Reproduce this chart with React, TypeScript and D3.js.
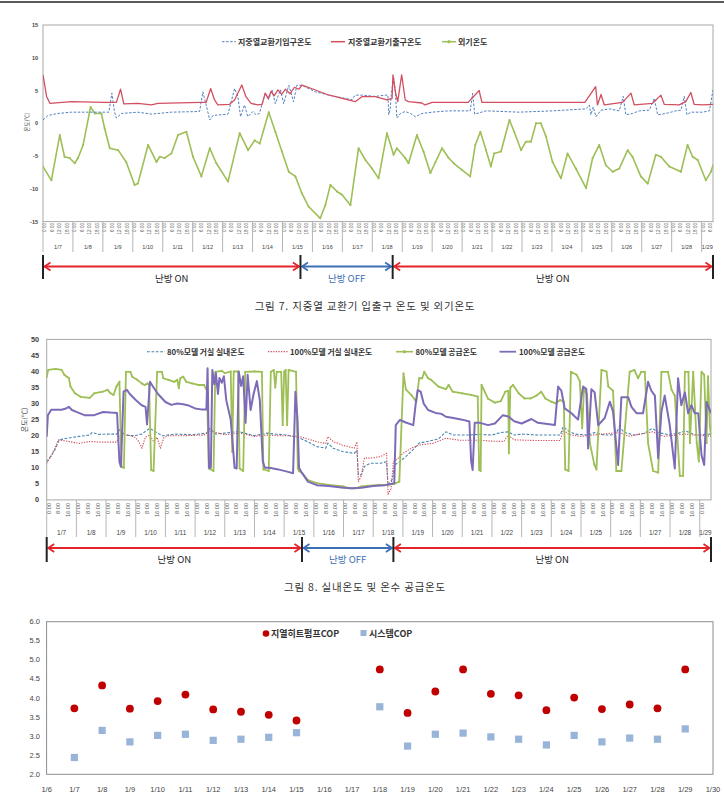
import * as React from 'react';
import * as d3 from 'd3';

// [days since 1/7 0:00, value]
type Pt = [number, number];

const T_END = 22.38; // last sample, 1/29 about 09:00

const dateLabels = ['1/7', '1/8', '1/9', '1/10', '1/11', '1/12', '1/13', '1/14', '1/15', '1/16', '1/17', '1/18',
    '1/19', '1/20', '1/21', '1/22', '1/23', '1/24', '1/25', '1/26', '1/27', '1/28', '1/29'];
const hours6 = ['0:00', '6:00', '12:00', '18:00'];
const hours8 = ['0:00', '8:00', '16:00'];

const heating = [
    { label: '난방 ON', on: true, from: 0, to: 8.6 },
    { label: '난방 OFF', on: false, from: 8.6, to: 11.68 },
    { label: '난방 ON', on: true, from: 11.68, to: T_END },
];

// ground heat exchanger inlet / outlet and outdoor air (°C)
const inletTemp: Pt[] = [
    [0, 0.5], [0.17, 1.2], [0.5, 1.5], [0.95, 1.7], [1.5, 1.7], [2.2, 1.7], [2.3, 4.6], [2.39, 1.7], [2.45, 0.8],
    [2.62, 1.5], [3.17, 1.7], [3.62, 1.4], [4.29, 1.7], [5.23, 1.8], [5.34, 4.8], [5.45, 2.8], [5.57, 0.5],
    [5.68, 1.2], [6.18, 1.4], [6.4, 5.3], [6.51, 4.1], [6.6, 1.0], [6.73, 2.8], [6.84, 1.0], [7.01, 1.8],
    [7.12, 1.3], [7.23, 1.5], [7.32, 3.0], [7.43, 4.6], [7.54, 3.6], [7.65, 5.1], [7.76, 3.0], [7.93, 5.1],
    [8.04, 3.0], [8.21, 5.8], [8.37, 3.3], [8.48, 5.8], [8.65, 5.8], [9.1, 4.8], [9.54, 4.3], [9.99, 3.9],
    [10.32, 3.6], [10.43, 4.3], [10.65, 4.3], [11.1, 4.1], [11.43, 4.3], [11.52, 4.3], [11.55, 1.3], [11.6, 2.3],
    [11.63, 4.3], [11.71, 7.1], [11.77, 4.8], [11.82, 0.8], [11.94, 1.5], [12.1, 1.8], [12.27, 1.5], [12.44, 1.0],
    [12.66, 1.5], [13.0, 1.7], [13.55, 1.9], [14.27, 1.9], [14.35, 4.6], [14.42, 1.4], [14.8, 1.9], [15.91, 1.7],
    [17.02, 1.9], [18.14, 2.2], [18.25, 2.8], [18.3, 1.3], [18.38, 2.5], [18.47, 1.0], [18.64, 2.0], [18.92, 2.2],
    [19.25, 1.9], [19.38, 4.1], [19.47, 1.3], [19.69, 1.5], [19.92, 1.9], [20.25, 2.0], [20.42, 3.8], [20.53, 1.3],
    [20.81, 1.5], [21.14, 1.9], [21.31, 2.0], [21.42, 4.1], [21.51, 1.3], [21.64, 1.7], [22.03, 1.7], [22.26, 1.9],
    [22.38, 5.1],
];
const outletTemp: Pt[] = [
    [0, 7.4], [0.12, 4.1], [0.23, 3.05], [0.95, 3.3], [2.06, 3.2], [2.45, 3.2], [2.59, 5.2], [2.7, 2.95],
    [3.17, 3.05], [3.62, 2.8], [3.84, 3.05], [5.28, 3.2], [5.45, 3.2], [5.6, 5.3], [5.73, 3.56], [5.84, 2.8],
    [6.23, 2.9], [6.4, 3.56], [6.64, 5.84], [6.78, 4.06], [6.95, 3.05], [7.17, 2.8], [7.32, 2.9], [7.42, 4.6],
    [7.52, 3.8], [7.62, 4.9], [7.72, 4.2], [7.85, 5.1], [7.97, 4.4], [8.1, 5.2], [8.25, 4.5], [8.4, 5.5],
    [8.55, 5.2], [8.65, 5.84], [9.1, 5.08], [9.54, 4.32], [9.99, 3.8], [10.43, 3.3], [10.65, 4.06], [11.1, 4.06],
    [11.49, 3.56], [11.66, 3.8], [11.69, 7.4], [11.77, 4.8], [11.85, 3.3], [11.98, 7.4], [12.1, 3.56], [12.21, 3.3],
    [12.66, 3.1], [12.76, 2.8], [13.0, 3.2], [14.2, 3.2], [14.57, 5.0], [14.66, 3.2], [17.0, 3.2], [18.1, 3.2],
    [18.46, 5.6], [18.52, 2.8], [18.64, 4.4], [18.75, 2.8], [19.36, 3.2], [19.64, 4.6], [19.75, 2.8], [20.36, 3.05],
    [20.64, 4.3], [20.75, 2.9], [21.25, 2.8], [21.47, 3.3], [21.64, 4.7], [21.75, 2.9], [22.03, 2.8], [22.38, 2.9],
];
const outdoorTemp: Pt[] = [
    [0, -6.6], [0.28, -8.7], [0.56, -1.8], [0.72, -5.1], [0.89, -5.3], [1.06, -6.1], [1.17, -5.3], [1.34, -3.3],
    [1.59, 2.5], [1.73, 1.5], [1.95, 1.5], [2.06, -0.8], [2.23, -3.8], [2.51, -4.1], [2.78, -5.9], [3.06, -9.4],
    [3.17, -9.2], [3.51, -3.3], [3.79, -5.9], [3.9, -5.1], [4.06, -5.3], [4.29, -4.6], [4.51, -1.8], [4.79, -1.3],
    [5.01, -5.1], [5.29, -8.1], [5.57, -3.8], [5.79, -6.1], [6.18, -8.9], [6.57, -1.5], [6.85, -4.1], [7.07, -2.6],
    [7.24, -3.1], [7.54, 1.7], [7.76, -1.3], [7.98, -4.3], [8.21, -7.4], [8.43, -8.1], [8.65, -10.7], [8.87, -12.7],
    [9.26, -14.5], [9.43, -12.5], [9.6, -9.4], [9.82, -10.4], [9.99, -10.9], [10.27, -12.5], [10.54, -3.8],
    [10.77, -5.6], [10.99, -6.9], [11.21, -8.4], [11.49, -1.5], [11.71, -4.8], [11.82, -3.8], [12.1, -5.3],
    [12.21, -6.1], [12.49, -1.8], [12.71, -4.3], [12.94, -7.6], [13.11, -5.9], [13.33, -3.8], [13.55, -5.3],
    [13.72, -6.1], [13.99, -7.1], [14.27, -8.1], [14.44, -3.3], [14.61, -1.3], [14.8, -4.1], [14.96, -6.6],
    [15.07, -4.6], [15.3, -4.3], [15.58, 0.5], [15.74, -1.3], [15.97, -4.1], [16.13, -2.8], [16.3, -2.8],
    [16.47, 0], [16.63, 0], [16.8, -2.0], [17.02, -5.9], [17.19, -7.4], [17.3, -8.4], [17.52, -4.6], [17.8, -6.9],
    [18.14, -9.9], [18.36, -5.3], [18.58, -3.3], [18.8, -6.4], [19.03, -7.4], [19.25, -6.9], [19.53, -4.1],
    [19.69, -5.1], [19.97, -8.1], [20.2, -9.2], [20.47, -4.8], [20.64, -5.1], [20.92, -6.6], [21.31, -7.4],
    [21.53, -3.3], [21.7, -5.1], [21.87, -5.6], [22.14, -8.7], [22.31, -7.4], [22.38, -6.4],
];

// living room temperatures and hot water supply temperatures (°C)
const indoor80: Pt[] = [
    [0, 11.9], [0.17, 14.0], [0.3, 16.0], [0.42, 18.7], [0.75, 19.3], [1.1, 19.8], [1.45, 20.2], [1.53, 21.0],
    [1.75, 20.4], [2.1, 20.5], [2.35, 20.5], [2.5, 22.3], [2.62, 20.2], [2.95, 20.0], [3.2, 20.5], [3.47, 22.3],
    [3.7, 21.0], [3.9, 20.0], [4.35, 20.5], [4.9, 20.3], [5.38, 20.8], [5.5, 22.3], [5.7, 20.5], [6.0, 20.8],
    [6.45, 21.3], [7.0, 20.0], [7.39, 20.8], [7.7, 20.5], [8.1, 20.2], [8.53, 19.2], [8.8, 18.1], [9.1, 16.6],
    [9.4, 16.1], [9.47, 17.7], [9.65, 16.1], [9.95, 15.1], [10.36, 14.5], [10.45, 15.5], [10.5, 7.8], [10.6, 7.8],
    [10.7, 10.4], [10.9, 11.4], [11.25, 11.4], [11.45, 11.9], [11.5, 4.6], [11.57, 5.5], [11.65, 6.5],
    [11.72, 10.9], [11.9, 11.9], [12.1, 13.5], [12.33, 15.5], [12.55, 17.7], [12.78, 18.1], [13.2, 19.0],
    [13.45, 21.2], [13.7, 20.2], [14.15, 20.2], [14.6, 20.4], [15.0, 20.2], [15.3, 21.0], [15.55, 21.2],
    [15.75, 20.2], [16.0, 20.5], [16.6, 20.2], [17.3, 20.2], [17.4, 22.8], [17.57, 21.5], [17.8, 20.5],
    [18.25, 20.2], [18.45, 21.0], [18.8, 20.2], [19.15, 20.3], [19.3, 22.8], [19.45, 21.0], [19.8, 20.2],
    [20.15, 20.8], [20.4, 22.3], [20.6, 21.0], [20.95, 20.3], [21.3, 20.8], [21.52, 21.5], [21.85, 20.2],
    [22.38, 20.5],
];
const indoor100: Pt[] = [
    [0, 11.4], [0.17, 14.0], [0.4, 18.7], [0.75, 18.2], [1.1, 17.6], [1.45, 18.2], [1.8, 18.0], [2.1, 18.0],
    [2.35, 18.0], [2.5, 20.2], [2.75, 20.2], [2.98, 19.5], [3.1, 18.2], [3.21, 16.1], [3.32, 19.5], [3.47, 20.2],
    [3.6, 18.2], [3.72, 19.5], [3.83, 16.1], [3.95, 19.5], [4.1, 20.0], [4.6, 20.0], [5.3, 20.2], [5.5, 21.5],
    [6.0, 20.3], [6.5, 20.8], [7.0, 19.8], [7.39, 20.2], [7.8, 20.0], [8.1, 20.0], [8.53, 19.7], [8.8, 19.0],
    [9.1, 18.1], [9.4, 17.6], [9.47, 19.7], [9.65, 18.2], [9.95, 17.1], [10.36, 16.1], [10.45, 18.1], [10.5, 5.7],
    [10.6, 7.5], [10.7, 13.0], [10.9, 13.0], [11.25, 13.5], [11.45, 14.5], [11.5, 1.8], [11.6, 3.5], [11.68, 12.0],
    [11.8, 12.6], [12.0, 14.5], [12.3, 16.2], [12.55, 17.1], [13.0, 17.6], [13.45, 19.2], [13.9, 18.6],
    [14.6, 18.6], [15.0, 18.3], [15.4, 18.2], [15.55, 20.2], [15.75, 18.7], [16.5, 18.5], [17.3, 18.5],
    [17.4, 21.8], [17.6, 20.3], [18.0, 19.8], [18.5, 20.3], [19.3, 21.0], [19.6, 19.8], [20.4, 21.2], [20.8, 19.8],
    [21.5, 20.5], [22.38, 19.8],
];
const supply80: Pt[] = [
    [0, 38.3], [0.05, 40.5], [0.3, 40.8], [0.5, 40.5], [0.6, 38.9], [0.68, 38.4], [0.75, 37.9], [0.8, 35.3],
    [0.95, 33.2], [1.14, 32.1], [1.45, 31.8], [1.6, 33.2], [1.88, 33.7], [2.05, 34.3], [2.15, 33.2], [2.25, 32.7],
    [2.35, 35.3], [2.45, 36.8], [2.52, 10.3], [2.6, 10.0], [2.67, 39.9], [2.82, 39.9], [2.88, 38.4], [3.05, 37.4],
    [3.2, 36.3], [3.3, 35.8], [3.4, 36.3], [3.45, 35.8], [3.52, 9.3], [3.6, 9.0], [3.72, 39.9], [3.88, 39.9],
    [3.93, 37.9], [4.1, 37.4], [4.3, 36.8], [4.4, 37.4], [4.45, 34.8], [4.5, 37.9], [4.6, 38.4], [4.7, 36.8],
    [4.9, 36.3], [5.1, 35.8], [5.3, 35.8], [5.4, 34.0], [5.46, 9.8], [5.62, 9.0], [5.68, 39.9], [5.9, 40.2],
    [6.0, 39.5], [6.2, 40.0], [6.25, 15.0], [6.3, 40.0], [6.45, 40.0], [6.5, 9.8], [6.62, 9.0], [6.69, 39.9],
    [7.0, 40.0], [7.25, 39.9], [7.3, 9.5], [7.48, 9.0], [7.55, 39.9], [7.65, 40.5], [7.7, 35.0], [7.75, 39.9],
    [7.9, 39.9], [7.95, 23.3], [8.0, 39.9], [8.05, 40.5], [8.1, 23.3], [8.15, 40.5], [8.4, 39.9], [8.46, 9.8],
    [8.5, 9.0], [8.6, 8.4], [8.8, 6.2], [9.1, 5.2], [9.5, 4.7], [10.0, 4.2], [10.2, 3.6], [10.4, 3.6], [10.6, 4.2],
    [10.8, 4.4], [11.2, 4.7], [11.5, 4.7], [11.7, 5.0], [11.88, 5.7], [12.02, 39.4], [12.1, 34.4], [12.3, 32.5],
    [12.45, 30.6], [12.55, 37.9], [12.65, 37.9], [12.72, 39.9], [12.85, 37.9], [12.95, 37.4], [13.2, 35.3],
    [13.45, 34.5], [13.54, 35.8], [13.68, 33.7], [14.0, 33.2], [14.3, 32.7], [14.52, 32.2], [14.57, 9.3],
    [14.62, 9.0], [14.65, 35.8], [14.87, 31.5], [15.1, 30.3], [15.3, 30.8], [15.45, 33.7], [15.55, 34.0],
    [15.57, 14.5], [15.62, 35.0], [15.71, 35.8], [15.9, 33.2], [16.1, 31.6], [16.3, 31.6], [16.5, 32.5],
    [16.66, 33.7], [16.8, 31.6], [17.0, 30.6], [17.15, 30.1], [17.3, 31.1], [17.42, 30.6], [17.47, 9.5],
    [17.58, 9.0], [17.66, 39.9], [17.85, 39.0], [17.96, 37.0], [18.04, 22.3], [18.1, 34.5], [18.2, 33.0],
    [18.3, 17.7], [18.45, 11.0], [18.52, 9.5], [18.69, 40.5], [18.86, 40.0], [18.92, 35.3], [19.08, 34.0],
    [19.19, 9.0], [19.36, 9.0], [19.64, 39.9], [19.8, 40.5], [19.92, 37.9], [20.03, 39.9], [20.15, 39.9],
    [20.26, 17.7], [20.43, 9.0], [20.6, 8.5], [20.71, 39.9], [20.93, 39.9], [21.05, 34.3], [21.16, 32.5],
    [21.33, 7.5], [21.44, 7.5], [21.5, 39.9], [21.62, 39.9], [21.67, 17.7], [21.78, 39.9], [21.9, 17.7],
    [21.97, 12.0], [22.06, 39.9], [22.15, 39.0], [22.23, 17.7], [22.28, 38.5], [22.34, 23.0], [22.38, 20.0],
];
const supply100: Pt[] = [
    [0, 19.7], [0.04, 26.4], [0.15, 28.1], [0.5, 28.1], [0.65, 28.5], [0.75, 29.0], [0.85, 28.0], [1.0, 27.4],
    [1.27, 26.4], [1.6, 26.4], [1.9, 27.4], [2.15, 27.2], [2.37, 27.1], [2.45, 11.9], [2.5, 10.3], [2.59, 33.7],
    [2.7, 34.3], [2.8, 33.0], [3.0, 31.1], [3.2, 29.5], [3.33, 29.0], [3.38, 23.5], [3.48, 36.8], [3.6, 35.0],
    [3.75, 33.0], [4.0, 30.5], [4.2, 29.6], [4.4, 30.0], [4.6, 29.8], [4.75, 29.5], [5.0, 28.5], [5.2, 28.2],
    [5.38, 28.2], [5.42, 41.0], [5.47, 10.0], [5.53, 10.0], [5.58, 40.5], [5.65, 36.0], [5.7, 39.5], [5.77, 33.0],
    [5.82, 38.0], [5.9, 36.5], [5.97, 38.5], [6.05, 31.0], [6.2, 25.0], [6.33, 10.0], [6.4, 9.8], [6.47, 40.0],
    [6.55, 35.5], [6.62, 38.5], [6.7, 24.0], [6.77, 39.0], [6.87, 28.0], [6.97, 33.0], [7.08, 37.0], [7.18, 31.0],
    [7.28, 12.0], [7.35, 10.0], [7.5, 10.0], [7.8, 9.5], [8.1, 8.8], [8.3, 8.3], [8.38, 33.7], [8.45, 25.0],
    [8.5, 10.0], [8.6, 8.4], [8.8, 5.7], [9.1, 4.6], [9.5, 4.3], [10.0, 3.8], [10.3, 3.6], [10.6, 3.8], [11.0, 4.3],
    [11.4, 4.6], [11.71, 5.2], [11.76, 23.3], [11.9, 24.9], [12.1, 24.1], [12.35, 23.3], [12.44, 30.6],
    [12.5, 34.2], [12.6, 33.7], [12.7, 30.0], [12.85, 28.0], [13.1, 27.1], [13.3, 26.8], [13.45, 25.9],
    [13.7, 25.5], [14.0, 25.0], [14.24, 24.4], [14.3, 12.0], [14.35, 9.3], [14.42, 24.0], [14.6, 24.0],
    [14.87, 23.3], [15.1, 23.8], [15.37, 26.4], [15.55, 26.0], [15.75, 24.5], [16.0, 23.8], [16.33, 25.2],
    [16.55, 24.0], [17.0, 23.5], [17.12, 23.3], [17.23, 35.3], [17.34, 34.0], [17.45, 28.5], [17.68, 27.0],
    [17.9, 25.0], [18.07, 35.3], [18.18, 34.5], [18.24, 16.0], [18.35, 34.5], [18.46, 33.5], [18.58, 23.3],
    [18.8, 25.5], [18.97, 30.6], [19.08, 27.5], [19.25, 10.9], [19.36, 32.0], [19.59, 32.0], [19.7, 29.0],
    [19.87, 27.0], [20.09, 27.0], [20.26, 36.8], [20.37, 34.0], [20.49, 32.5], [20.6, 13.0], [20.71, 27.5],
    [20.82, 32.5], [20.99, 23.3], [21.16, 9.8], [21.27, 37.9], [21.38, 29.5], [21.5, 33.5], [21.61, 27.0],
    [21.72, 29.5], [21.83, 27.0], [21.95, 27.0], [22.06, 14.0], [22.15, 10.9], [22.23, 30.5], [22.34, 28.0],
    [22.38, 27.0],
];

// daily COP
const copAxisDays = ['1/6', '1/7', '1/8', '1/9', '1/10', '1/11', '1/12', '1/13', '1/14', '1/15', '1/16', '1/17',
    '1/18', '1/19', '1/20', '1/21', '1/22', '1/23', '1/24', '1/25', '1/26', '1/27', '1/28', '1/29', '1/30'];
const copDays = ['1/7', '1/8', '1/9', '1/10', '1/11', '1/12', '1/13', '1/14', '1/15', '1/18', '1/19', '1/20',
    '1/21', '1/22', '1/23', '1/24', '1/25', '1/26', '1/27', '1/28', '1/29'];
const heatPumpCop = [3.73, 4.33, 3.72, 3.92, 4.09, 3.70, 3.64, 3.56, 3.41, 4.75, 3.61, 4.17, 4.75, 4.11, 4.07,
    3.68, 4.01, 3.71, 3.83, 3.73, 4.75];
const systemCop = [2.44, 3.15, 2.85, 3.02, 3.05, 2.89, 2.92, 2.97, 3.09, 3.77, 2.74, 3.05, 3.08, 2.98, 2.92,
    2.77, 3.02, 2.85, 2.95, 2.92, 3.19];

const KR = '"Noto Sans CJK KR", "Noto Sans", sans-serif';
const NUM = '"Liberation Sans", Arial, sans-serif';
const GREEN = '#9dbf55';
const ON_RED = '#e3242b';
const OFF_BLUE = '#3c6fb4';

interface Serie {
    data: Pt[];
    color: string;
    width: number;
    dash?: string;
    markers?: boolean;
}

interface PanelProps {
    id: string;
    left: number;
    right: number;
    top: number;
    bottom: number;
    yDomain: [number, number];
    yTicks: number[];
    yLabelX: number;
    yFont: number;
    yTitleX: number;
    yTitleY: number;
    yTitleFont: number;
    series: Serie[];
    hours: string[];
    hourFont: number;
    hourTop: number;
    dateY: number;
    dateFont: number;
    sepBottom: number;
    phaseTop: number;
    phaseBottom: number;
    arrowY: number;
    phaseLabelY: number;
    children?: React.ReactNode;
}

function TimePanel(p: PanelProps) {
    const x = d3.scaleLinear().domain([0, T_END]).range([p.left, p.right]);
    const y = d3.scaleLinear().domain(p.yDomain).range([p.bottom, p.top]);
    const line = d3.line<Pt>().x(d => x(d[0])).y(d => y(d[1]));
    const clipId = 'clip-' + p.id;

    const hourLabels: React.ReactNode[] = [];
    dateLabels.forEach((_, d) => {
        p.hours.forEach((h, k) => {
            const t = d + k / p.hours.length;
            if (t > T_END - 0.05) return;
            const hx = x(t) + 1.8;
            hourLabels.push(
                <text key={d + '-' + k} transform={`translate(${hx},${p.hourTop}) rotate(-90)`}
                    textAnchor="end" dominantBaseline="central" fontSize={p.hourFont} fill="#555"
                    fontFamily={NUM}>{h}</text>
            );
        });
    });

    const bounds = [0, ...heating.map(h => h.to)];

    return (
        <g>
            <defs>
                <clipPath id={clipId}>
                    <rect x={p.left} y={p.top} width={p.right - p.left} height={p.bottom - p.top} />
                </clipPath>
            </defs>
            <rect x={p.left} y={p.top} width={p.right - p.left} height={p.bottom - p.top}
                fill="#fff" stroke="#a8a8a8" strokeWidth={1} />

            {p.yTicks.map(v => (
                <text key={v} x={p.yLabelX} y={y(v)} textAnchor="end" dominantBaseline="central"
                    fontSize={p.yFont} fontWeight={700} fill="#444" fontFamily={NUM}>{v}</text>
            ))}
            <text transform={`translate(${p.yTitleX},${p.yTitleY}) rotate(-90)`}
                textAnchor="middle" dominantBaseline="central" fontSize={p.yTitleFont} fill="#444"
                fontFamily={KR}>온도(℃)</text>

            <g clipPath={`url(#${clipId})`}>
                {p.series.map((s, i) => (
                    <g key={i}>
                        <path d={line(s.data) || undefined} fill="none" stroke={s.color} strokeWidth={s.width}
                            strokeDasharray={s.dash} strokeLinejoin="round" />
                        {s.markers && s.data.map((d, j) => (
                            <circle key={j} cx={x(d[0])} cy={y(d[1])} r={1} fill={s.color} />
                        ))}
                    </g>
                ))}
            </g>

            {hourLabels}

            {/* day separators and date labels */}
            <line x1={p.left} x2={p.left} y1={p.bottom} y2={p.sepBottom} stroke="#b5b5b5" />
            {dateLabels.map((lab, d) => {
                const x0 = x(d);
                const x1 = Math.min(x(d + 1), p.right);
                return (
                    <g key={lab}>
                        {d > 0 && <line x1={x0} x2={x0} y1={p.bottom} y2={p.sepBottom} stroke="#b5b5b5" />}
                        <text x={(x0 + x1) / 2} y={p.dateY} textAnchor="middle" dominantBaseline="central"
                            fontSize={p.dateFont} fill="#444" fontFamily={NUM}>{lab}</text>
                    </g>
                );
            })}

            {/* heating on/off periods */}
            {heating.map((h, i) => {
                const xs = x(h.from) + 1.5;
                const xe = x(h.to) - 1.5;
                const c = h.on ? ON_RED : OFF_BLUE;
                const ay = p.arrowY;
                return (
                    <g key={i}>
                        <line x1={xs} x2={xe} y1={ay} y2={ay} stroke={c} strokeWidth={1.8} />
                        <polyline points={`${xs + 6},${ay - 4} ${xs},${ay} ${xs + 6},${ay + 4}`}
                            fill="none" stroke={c} strokeWidth={1.8} />
                        <polyline points={`${xe - 6},${ay - 4} ${xe},${ay} ${xe - 6},${ay + 4}`}
                            fill="none" stroke={c} strokeWidth={1.8} />
                        <text x={(x(h.from) + x(h.to)) / 2} y={p.phaseLabelY} textAnchor="middle"
                            dominantBaseline="central" fontSize={9.5} fontFamily={KR}
                            fill={h.on ? '#222' : OFF_BLUE}>{h.label}</text>
                    </g>
                );
            })}
            {bounds.map((b, i) => (
                <line key={i} x1={x(b)} x2={x(b)} y1={p.phaseTop} y2={p.phaseBottom} stroke="#222" strokeWidth={2} />
            ))}

            {p.children}
        </g>
    );
}

function LegendLine({ x1, x2, y, color, width, dash, marker }:
    { x1: number; x2: number; y: number; color: string; width: number; dash?: string; marker?: boolean }) {
    return (
        <g>
            <line x1={x1} x2={x2} y1={y} y2={y} stroke={color} strokeWidth={width} strokeDasharray={dash} />
            {marker && <circle cx={(x1 + x2) / 2} cy={y} r={1.6} fill={color} />}
        </g>
    );
}

function LegendText({ x, y, size, children }: { x: number; y: number; size: number; children: React.ReactNode }) {
    return (
        <text x={x} y={y} dominantBaseline="central" fontSize={size} fontWeight={700} fill="#333"
            fontFamily={KR}>{children}</text>
    );
}

function CopChart() {
    const left = 46.6, right = 713, top = 621.7, bottom = 774.3;
    const x = d3.scalePoint<string>().domain(copAxisDays).range([left, right]);
    const y = d3.scaleLinear().domain([2, 6]).range([bottom, top]);
    const yTicks = d3.range(2, 6.01, 0.5);
    return (
        <g>
            <rect x={left} y={top} width={right - left} height={bottom - top} fill="#fff" stroke="#8c8c8c" />
            {yTicks.map(v => (
                <text key={v} x={40} y={y(v)} textAnchor="end" dominantBaseline="central" fontSize={7.5}
                    fill="#444" fontFamily={NUM}>{v.toFixed(1)}</text>
            ))}
            {copAxisDays.map(d => (
                <text key={d} x={x(d)} y={789} textAnchor="middle" dominantBaseline="central" fontSize={7.5}
                    fill="#444" fontFamily={NUM}>{d}</text>
            ))}
            {copDays.map((d, i) => (
                <rect key={'s' + d} x={(x(d) || 0) - 3.6} y={y(systemCop[i]) - 3.6} width={7.2} height={7.2}
                    fill="#98b4d8" />
            ))}
            {copDays.map((d, i) => (
                <circle key={'c' + d} cx={x(d)} cy={y(heatPumpCop[i])} r={3.9} fill="#c00000" />
            ))}
            <circle cx={266} cy={633.5} r={3.3} fill="#c00000" />
            <LegendText x={271} y={633.5} size={9}>지열히트펌프COP</LegendText>
            <rect x={360.5} y={630} width={6} height={6} fill="#98b4d8" />
            <LegendText x={369} y={633.5} size={9}>시스템COP</LegendText>
        </g>
    );
}

export default function App() {
    return (
        <svg width={724} height={797} viewBox="0 0 724 797"
            style={{ position: 'absolute', left: 0, top: 0, background: '#fff' }}>
            <rect x={0} y={0} width={724} height={797} fill="#fff" />
            <rect x={0} y={1} width={724} height={2} fill="#5a5a5a" />

            <TimePanel id="hx" left={43} right={713} top={25} bottom={221.6}
                yDomain={[-15, 15]} yTicks={[15, 10, 5, 0, -5, -10, -15]} yLabelX={38} yFont={5.5}
                yTitleX={26.5} yTitleY={122} yTitleFont={5.5}
                series={[
                    { data: outdoorTemp, color: GREEN, width: 1.6, markers: true },
                    { data: inletTemp, color: '#4f7fc0', width: 1, dash: '2.5,1.6' },
                    { data: outletTemp, color: '#d24f60', width: 1.3 },
                ]}
                hours={hours6} hourFont={4.6} hourTop={223} dateY={247} dateFont={5.6} sepBottom={252}
                phaseTop={255} phaseBottom={279} arrowY={266.5} phaseLabelY={277.5}>
                <LegendLine x1={222} x2={236} y={41.7} color="#4f7fc0" width={1} dash="2.5,1.6" />
                <LegendText x={238} y={41.7} size={8}>지중열교환기입구온도</LegendText>
                <LegendLine x1={331} x2={345} y={41.7} color="#d24f60" width={1.5} />
                <LegendText x={348} y={41.7} size={8}>지중열교환기출구온도</LegendText>
                <LegendLine x1={442} x2={456} y={41.7} color={GREEN} width={1.5} marker />
                <LegendText x={458} y={41.7} size={8}>외기온도</LegendText>
            </TimePanel>

            <text x={365} y={305} textAnchor="middle" dominantBaseline="central" fontSize={10.5}
                letterSpacing={0.8} fill="#333" fontFamily={KR}>그림 7. 지중열 교환기 입출구 온도 및 외기온도</text>

            <TimePanel id="sup" left={46.7} right={711} top={339.4} bottom={499.9}
                yDomain={[0, 50]} yTicks={d3.range(0, 51, 5)} yLabelX={39} yFont={7.3}
                yTitleX={24} yTitleY={420} yTitleFont={7}
                series={[
                    { data: indoor80, color: '#4a86b0', width: 1.1, dash: '2.8,1.6' },
                    { data: indoor100, color: '#d2505a', width: 1.1, dash: '1.3,1.3' },
                    { data: supply80, color: GREEN, width: 1.8, markers: true },
                    { data: supply100, color: '#7d6bb8', width: 2 },
                ]}
                hours={hours8} hourFont={5.6} hourTop={503} dateY={532} dateFont={6.4} sepBottom={537}
                phaseTop={537} phaseBottom={562} arrowY={548} phaseLabelY={558.5}>
                <LegendLine x1={147} x2={165} y={351.7} color="#4a86b0" width={1.1} dash="2.8,1.6" />
                <LegendText x={167} y={351.7} size={7.8}>80%모델 거실 실내온도</LegendText>
                <LegendLine x1={268} x2={288} y={351.7} color="#d2505a" width={1.2} dash="1.3,1.3" />
                <LegendText x={290} y={351.7} size={7.8}>100%모델 거실 실내온도</LegendText>
                <LegendLine x1={396} x2={413} y={351.7} color={GREEN} width={1.6} marker />
                <LegendText x={415.5} y={351.7} size={7.8}>80%모델 공급온도</LegendText>
                <LegendLine x1={499.5} x2={516} y={351.7} color="#7d6bb8" width={1.8} />
                <LegendText x={519} y={351.7} size={7.8}>100%모델 공급온도</LegendText>
            </TimePanel>

            <text x={365} y={586} textAnchor="middle" dominantBaseline="central" fontSize={10.5}
                letterSpacing={0.8} fill="#333" fontFamily={KR}>그림 8. 실내온도 및 온수 공급온도</text>

            <CopChart />
        </svg>
    );
}
